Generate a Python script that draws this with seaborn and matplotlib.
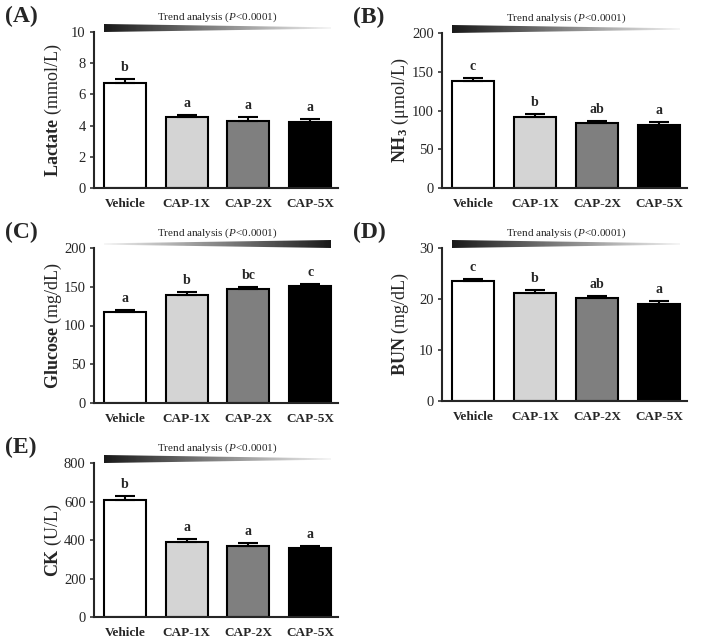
import numpy as np
import pandas as pd
import seaborn as sns
import matplotlib
matplotlib.use("Agg")
import matplotlib.pyplot as plt
from matplotlib.patches import Polygon

sns.set_style("ticks")
plt.rcParams["font.family"] = ["Liberation Serif", "DejaVu Serif"]
plt.rcParams["mathtext.fontset"] = "custom"
plt.rcParams["mathtext.rm"] = "Liberation Serif"
plt.rcParams["mathtext.bf"] = "Liberation Serif:bold"
plt.rcParams["mathtext.it"] = "Liberation Serif:italic"

# ---- data ----
groups = ["Vehicle", "CAP-1X", "CAP-2X", "CAP-5X"]
bar_colors = ["#ffffff", "#d4d4d4", "#7f7f7f", "#000000"]

lactate_mean = [6.73, 4.55, 4.32, 4.23]
lactate_sem = [0.26, 0.15, 0.21, 0.21]
lactate_letters = ["b", "a", "a", "a"]

nh3_mean = [138.2, 91.6, 83.8, 81.2]
nh3_sem = [3.5, 4.3, 3.0, 3.5]
nh3_letters = ["c", "b", "ab", "a"]

glucose_mean = [117.0, 139.4, 147.5, 150.5]
glucose_sem = [2.6, 3.4, 1.7, 3.5]
glucose_letters = ["a", "b", "bc", "c"]

bun_mean = [23.44, 21.14, 20.16, 18.98]
bun_sem = [0.53, 0.66, 0.52, 0.72]
bun_letters = ["c", "b", "ab", "a"]

ck_mean = [606, 392, 368, 356]
ck_sem = [21, 14, 14, 12]
ck_letters = ["b", "a", "a", "a"]

panels = [
    # tag, ylabel, mean, sem, letters, ymax, ystep, trend
    ("(A)", r"$\mathbf{Lactate}$ (mmol/L)", lactate_mean, lactate_sem, lactate_letters, 10, 2, "down"),
    ("(B)", r"$\mathbf{NH_3}$ (μmol/L)", nh3_mean, nh3_sem, nh3_letters, 200, 50, "down"),
    ("(C)", r"$\mathbf{Glucose}$ (mg/dL)", glucose_mean, glucose_sem, glucose_letters, 200, 50, "up"),
    ("(D)", r"$\mathbf{BUN}$ (mg/dL)", bun_mean, bun_sem, bun_letters, 30, 10, "down"),
    ("(E)", r"$\mathbf{CK}$ (U/L)", ck_mean, ck_sem, ck_letters, 800, 200, "down"),
]

W, H = 703, 640
fig = plt.figure(figsize=(W / 100, H / 100), dpi=100)

# axes boxes in pixels: left, top, right, bottom
boxes = [
    (94, 32, 338, 188),
    (442, 33, 687, 188),
    (94, 248, 338, 403),
    (442, 248, 687, 401),
    (94, 463, 338, 617),
]

xlim = (-0.5, 3.45)
bar_w = 0.68

for (tag, ylab, mean, sem, letters, ymax, ystep, trend), (l, t, r, b) in zip(panels, boxes):
    ax = fig.add_axes([l / W, 1 - b / H, (r - l) / W, (b - t) / H])
    df = pd.DataFrame({"group": groups, "value": mean})
    sns.barplot(data=df, x="group", y="value", hue="group", palette=bar_colors,
                edgecolor="black", linewidth=1.5, width=bar_w, legend=False, ax=ax)
    ax.errorbar(np.arange(4), mean, yerr=[np.zeros(4), sem], fmt="none",
                ecolor="black", elinewidth=1.5, capsize=7, capthick=1.5, zorder=1)
    for i, (m, s, let) in enumerate(zip(mean, sem, letters)):
        ax.annotate(let, (i, m + s), xytext=(0, 5), textcoords="offset pixels",
                    ha="center", va="bottom", fontsize=10, fontweight="bold")

    ax.set_xlim(*xlim)
    ax.set_ylim(0, ymax)
    ax.set_yticks(np.arange(0, ymax + ystep / 2, ystep))
    ax.set_xlabel("")
    ax.set_ylabel(ylab, fontsize=13)
    ax.yaxis.set_label_coords(-0.125, 0.5)
    sns.despine(ax=ax)
    for sp in ["left", "bottom"]:
        ax.spines[sp].set_linewidth(1.5)
    ax.tick_params(axis="y", labelsize=10.5, length=3, width=1.1, pad=3)
    ax.tick_params(axis="x", length=0, pad=7)
    for lab in ax.get_xticklabels():
        lab.set_fontweight("bold")
        lab.set_fontsize(9.5)

    # panel tag
    ax.annotate(tag, (0, 1), xycoords="axes fraction", xytext=(-89, 16),
                textcoords="offset pixels", ha="left", va="center",
                fontsize=17, fontweight="bold")

    # trend wedge with gradient
    x0 = (-bar_w / 2 - xlim[0]) / (xlim[1] - xlim[0])
    x1 = (3 + bar_w / 2 - xlim[0]) / (xlim[1] - xlim[0])
    wl = l + x0 * (r - l)
    wr = l + x1 * (r - l)
    wax = fig.add_axes([wl / W, 1 - t / H, (wr - wl) / W, 8 / H])
    wax.set_xlim(0, 1)
    wax.set_ylim(0, 1)
    wax.axis("off")
    grad = np.linspace(0.1, 0.95, 256).reshape(1, -1)
    if trend == "down":
        poly = Polygon([(0, 0), (0, 1), (1, 0.58), (1, 0.42)], closed=True,
                       transform=wax.transData, facecolor="none", edgecolor="none")
    else:
        grad = grad[:, ::-1]
        poly = Polygon([(0, 0.42), (0, 0.58), (1, 1), (1, 0)], closed=True,
                       transform=wax.transData, facecolor="none", edgecolor="none")
    im = wax.imshow(grad, cmap="gray", vmin=0, vmax=1, aspect="auto",
                    extent=(0, 1, 0, 1), interpolation="bilinear")
    im.set_clip_path(poly)
    fig.text((wl + wr) / 2 / W, 1 - (t - 15) / H,
             r"Trend analysis ($\mathit{P}$<0.0001)", ha="center", va="center",
             fontsize=8)

fig.savefig("out.png", dpi=100)
